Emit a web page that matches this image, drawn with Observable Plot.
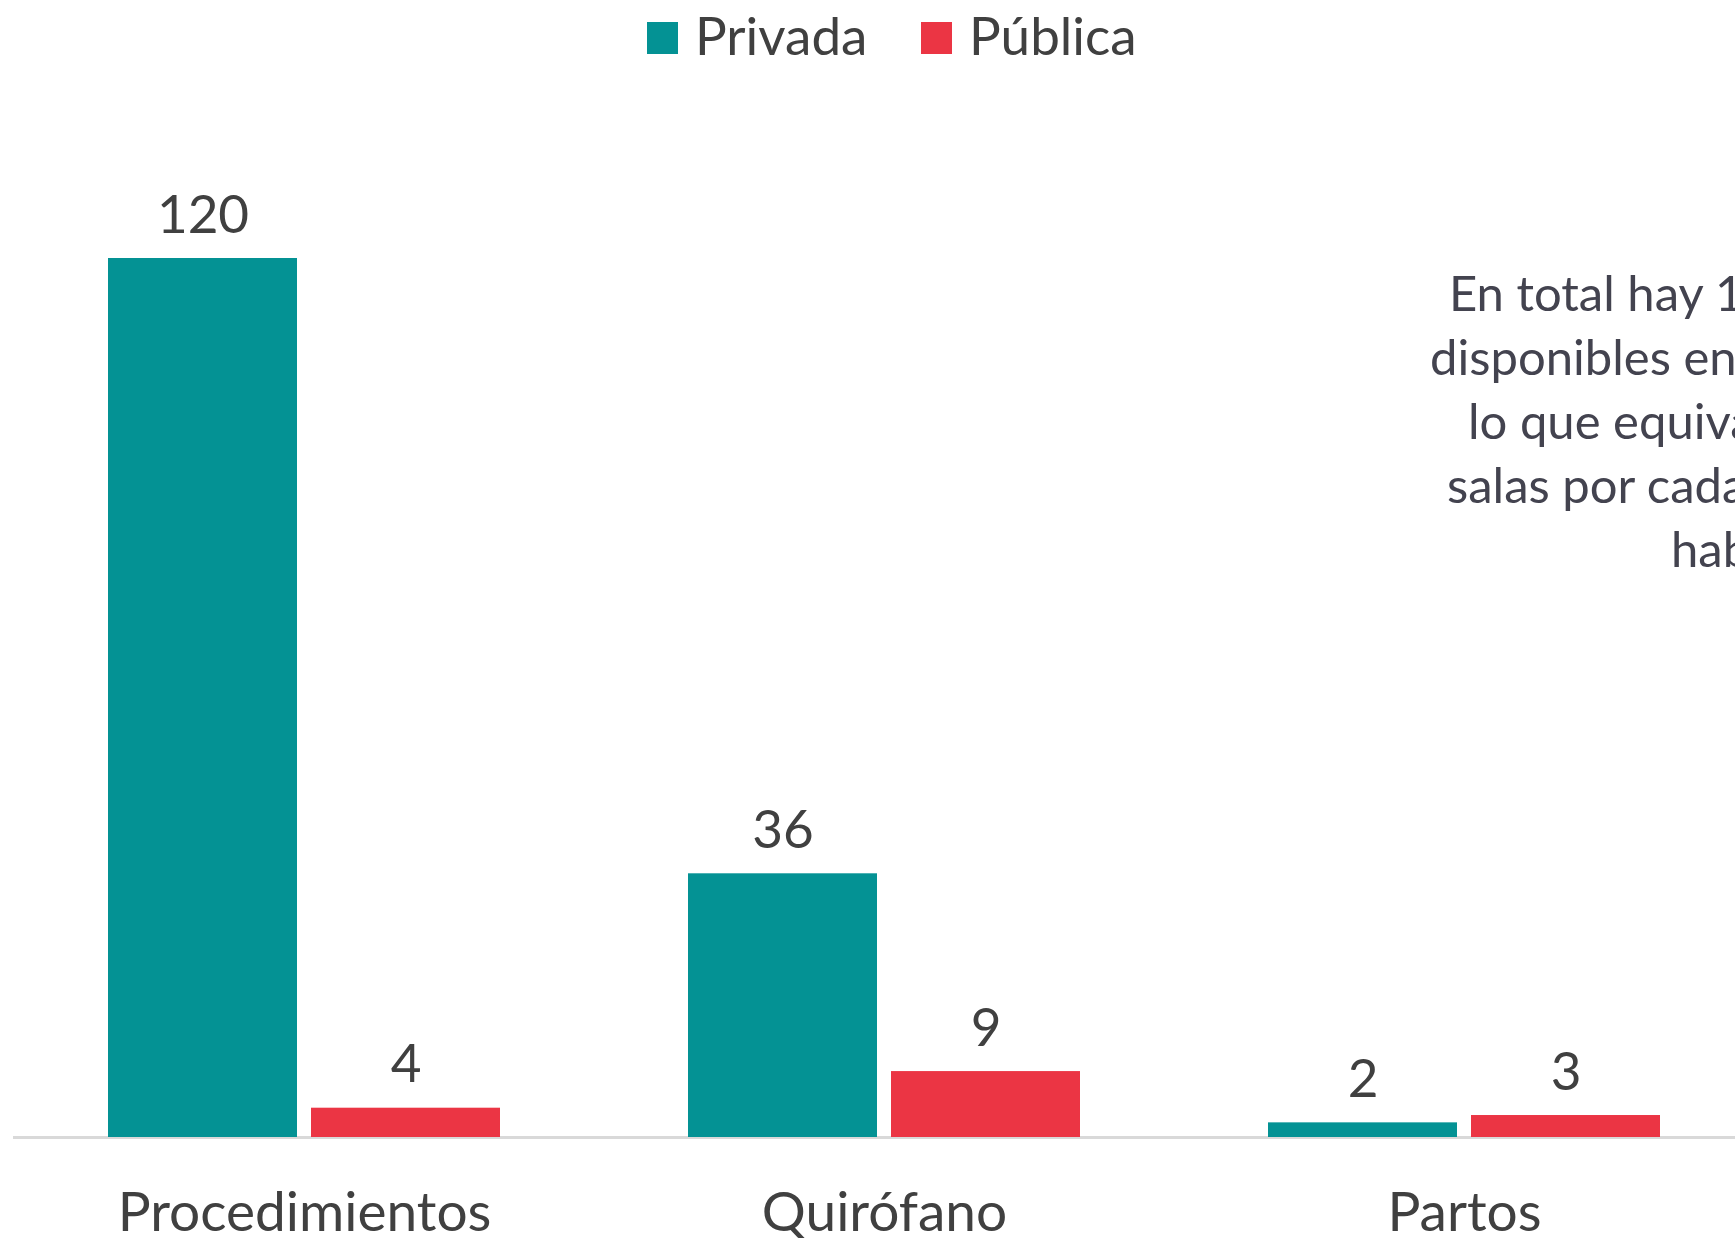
<!DOCTYPE html>
<html>
<head>
<meta charset="utf-8">
<script src="https://cdn.jsdelivr.net/npm/d3@7"></script>
<script src="https://cdn.jsdelivr.net/npm/@observablehq/plot@0.6"></script>
<style>
  html, body { margin: 0; padding: 0; background: #ffffff; overflow: hidden; }
  #wrap { position: relative; width: 1735px; height: 1238px; overflow: hidden; font-family: Lato, "Open Sans", sans-serif; }
  #legend { position: relative; height: 75px; }
  .sw { position: absolute; width: 31px; height: 32px; top: 22px; }
  .lt { position: absolute; font-size: 53px; line-height: 1; color: #404040; top: 8px; white-space: nowrap; }
  .note { position: absolute; font-size: 49px; line-height: 1; color: #43434f; white-space: nowrap; }
  #chart { position: absolute; top: 75px; left: 0; width: 1755px; }
  #chart svg { max-width: none !important; }
</style>
</head>
<body>
<div id="wrap">
  <div id="legend"></div>
  <div id="chart"></div>
  <div id="notes"></div>
</div>
<script>
// ---- data ----
const categorias = ["Procedimientos", "Quirófano", "Partos"];
const series = ["Privada", "Pública"];
const privada = [120, 36, 2];
const publica = [4, 9, 3];
const colores = ["#049294", "#EB3544"];
const nota = ["En total hay 174 salas", "disponibles en", "lo que equivale", "salas por cada", "habitantes"];

const data = categorias.flatMap((c, i) => [
  {categoria: c, serie: series[0], valor: privada[i]},
  {categoria: c, serie: series[1], valor: publica[i]}
]);

// ---- legend ----
const legend = document.getElementById("legend");
const legendPos = [{sw: 647, tx: 695}, {sw: 921, tx: 969}];
series.forEach((s, i) => {
  const sw = document.createElement("div");
  sw.className = "sw";
  sw.style.left = legendPos[i].sw + "px";
  sw.style.background = colores[i];
  legend.appendChild(sw);
  const t = document.createElement("div");
  t.className = "lt";
  t.style.left = legendPos[i].tx + "px";
  t.textContent = s;
  legend.appendChild(t);
});

// ---- annotation (clipped by right edge, as in the original) ----
const notes = document.getElementById("notes");
const noteLeft = [1449, 1430, 1468, 1447, 1671];
nota.forEach((line, i) => {
  const d = document.createElement("div");
  d.className = "note";
  d.style.left = noteLeft[i] + "px";
  d.style.top = (311 + i * 64 - 43) + "px";
  d.textContent = line;
  notes.appendChild(d);
});

// ---- chart ----
const chart = Plot.plot({
  width: 1755,
  height: 1210,
  marginTop: 183,
  marginBottom: 148,
  marginLeft: 13,
  marginRight: 0,
  style: {fontFamily: "Lato", fontSize: "55px", color: "#404040", background: "transparent", overflow: "visible", maxWidth: "none"},
  facet: {data, x: "categoria"},
  fx: {domain: categorias, paddingInner: 0.325, paddingOuter: 0.162, label: null, tickSize: 0, tickPadding: 54, axis: "bottom"},
  x: {domain: series, axis: null, paddingInner: 0.069, paddingOuter: 0},
  y: {domain: [0, 120], axis: null},
  color: {domain: series, range: colores},
  marks: [
    Plot.frame({anchor: "bottom", stroke: "#d9d9d9", strokeWidth: 3, facet: "super", insetLeft: -94, insetRight: -120}),
    Plot.barY(data, {x: "serie", y: "valor", fill: "serie"}),
    Plot.text(data, {x: "serie", y: "valor", text: d => String(d.valor), dy: -26, lineAnchor: "bottom", fontSize: 53, fill: "#404040"})
  ]
});
document.getElementById("chart").appendChild(chart);
</script>
</body>
</html>
